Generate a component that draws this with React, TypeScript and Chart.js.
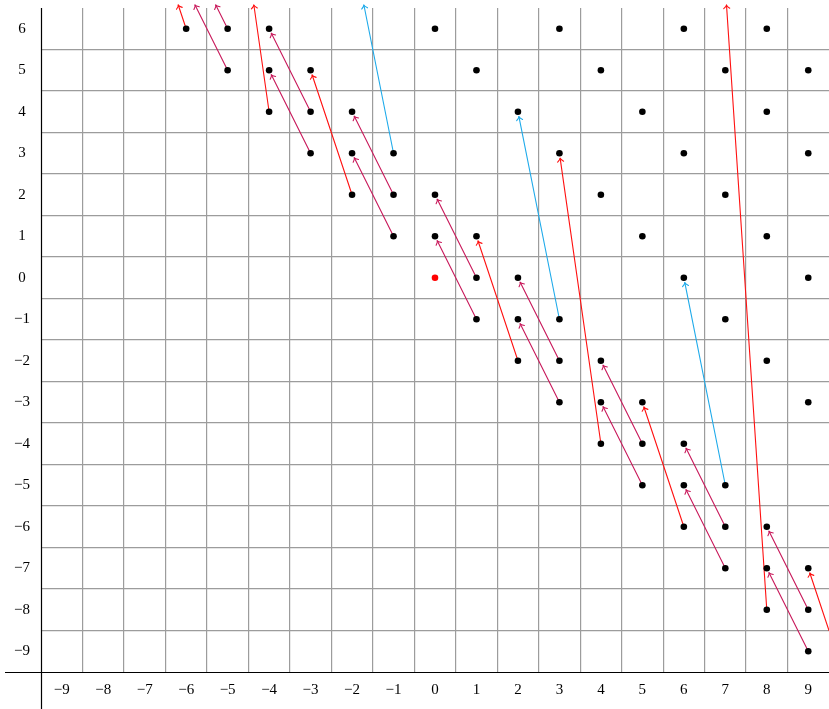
import React, { useEffect, useRef } from "react";
import { Chart, registerables } from "chart.js";

Chart.register(...registerables);

// ---------- data ----------
const X_MIN = -9.5;
const X_MAX = 9.5;
const Y_MIN = -9.5;
const Y_MAX = 6.5;

const xTickLabels = [-9, -8, -7, -6, -5, -4, -3, -2, -1, 0, 1, 2, 3, 4, 5, 6, 7, 8, 9];
const yTickLabels = [-9, -8, -7, -6, -5, -4, -3, -2, -1, 0, 1, 2, 3, 4, 5, 6];

const dotRowY = [6, 5, 4, 3, 2, 1, 0, -1, -2, -3, -4, -5, -6, -7, -8, -9];
const dotRowX = [
  [-6, -5, -4, 0, 3, 6, 8],
  [-5, -4, -3, 1, 4, 7, 9],
  [-4, -3, -2, 2, 5, 8],
  [-3, -2, -1, 3, 6, 9],
  [-2, -1, 0, 4, 7],
  [-1, 0, 1, 5, 8],
  [1, 2, 6, 9],
  [1, 2, 3, 7],
  [2, 3, 4, 8],
  [3, 4, 5, 9],
  [4, 5, 6],
  [5, 6, 7],
  [6, 7, 8],
  [7, 8, 9],
  [8, 9],
  [9],
];
const originDot = [0, 0];

const magentaFrom = [[-5, 6], [-5, 5], [-3, 4], [-3, 3], [-1, 2], [-1, 1], [1, 0], [1, -1], [3, -2], [3, -3], [5, -4], [5, -5], [7, -6], [7, -7], [9, -8], [9, -9]];
const magentaTo = [[-6, 8], [-6, 7], [-4, 6], [-4, 5], [-2, 4], [-2, 3], [0, 2], [0, 1], [2, 0], [2, -1], [4, -2], [4, -3], [6, -4], [6, -5], [8, -6], [8, -7]];
const redFrom = [[-6, 6], [-4, 4], [-2, 2], [2, -2], [4, -4], [6, -6], [8, -8], [10, -10]];
const redTo = [[-7, 9], [-5, 11], [-3, 5], [1, 1], [3, 3], [5, -3], [7, 7], [9, -7]];
const blueFrom = [[-1, 3], [3, -1], [7, -5]];
const blueTo = [[-2, 8], [2, 4], [6, 0]];

// ---------- styles ----------
const FONT = { family: "'Liberation Serif', 'DejaVu Serif', serif", size: 15 };
const GRID_COLOR = "#9c9c9c";
const MAGENTA = "#c8185a";
const RED = "#ff1010";
const BLUE = "#1eaaea";

const fmt = (v: number) => (v < 0 ? "\u2212" + Math.abs(v) : String(v));

function buildTicks(labels: number[]) {
  const vals: number[] = [];
  labels.forEach((v, i) => {
    if (i === 0) vals.push(v - 0.5);
    vals.push(v);
    vals.push(v + 0.5);
  });
  return vals.map((value) => ({ value }));
}

function clipSeg(x0: number, y0: number, x1: number, y1: number, l: number, t: number, r: number, b: number) {
  let t0 = 0;
  let t1 = 1;
  const dx = x1 - x0;
  const dy = y1 - y0;
  const p = [-dx, dx, -dy, dy];
  const q = [x0 - l, r - x0, y0 - t, b - y0];
  for (let i = 0; i < 4; i++) {
    if (p[i] === 0) {
      if (q[i] < 0) return null;
    } else {
      const rr = q[i] / p[i];
      if (p[i] < 0) {
        if (rr > t1) return null;
        if (rr > t0) t0 = rr;
      } else {
        if (rr < t0) return null;
        if (rr < t1) t1 = rr;
      }
    }
  }
  return [t0, t1];
}

const arrowGroups = [
  { color: MAGENTA, from: magentaFrom, to: magentaTo },
  { color: RED, from: redFrom, to: redTo },
  { color: BLUE, from: blueFrom, to: blueTo },
];

const arrowPlugin = {
  id: "arrowsAndAxes",
  beforeDatasetsDraw(chart: any) {
    const { ctx, chartArea: a, scales } = chart;
    const xs = scales.x;
    const ys = scales.y;
    ctx.save();
    // axis lines
    ctx.strokeStyle = "#000";
    ctx.lineWidth = 1.2;
    ctx.beginPath();
    ctx.moveTo(a.left + 0.5, a.top);
    ctx.lineTo(a.left + 0.5, chart.height);
    ctx.moveTo(5, a.bottom + 0.5);
    ctx.lineTo(a.right, a.bottom + 0.5);
    ctx.stroke();

    // arrows
    const l = a.left;
    const r = a.right;
    const t = a.top - 3;
    const b = a.bottom;
    ctx.lineWidth = 1.1;
    ctx.lineCap = "round";
    ctx.lineJoin = "round";
    arrowGroups.forEach((g) => {
      ctx.strokeStyle = g.color;
      g.from.forEach((f, i) => {
        const to = g.to[i];
        const x0 = xs.getPixelForValue(f[0]);
        const y0 = ys.getPixelForValue(f[1]);
        const x1 = xs.getPixelForValue(to[0]);
        const y1 = ys.getPixelForValue(to[1]);
        const c = clipSeg(x0, y0, x1, y1, l, t, r, b);
        if (!c) return;
        const dx = x1 - x0;
        const dy = y1 - y0;
        const len = Math.hypot(dx, dy);
        const ux = dx / len;
        const uy = dy / len;
        const sx = x0 + c[0] * dx;
        const sy = y0 + c[0] * dy;
        let ex = x0 + c[1] * dx;
        let ey = y0 + c[1] * dy;
        if (c[1] >= 1) {
          ex -= ux * 5;
          ey -= uy * 5;
        }
        ctx.beginPath();
        ctx.moveTo(sx, sy);
        ctx.lineTo(ex, ey);
        ctx.stroke();
        const hl = 3.5;
        const hw = 3;
        ctx.beginPath();
        ctx.moveTo(ex - ux * hl - uy * hw, ey - uy * hl + ux * hw);
        ctx.quadraticCurveTo(ex - ux * 1.2, ey - uy * 1.2, ex, ey);
        ctx.quadraticCurveTo(ex - ux * 1.2, ey - uy * 1.2, ex - ux * hl + uy * hw, ey - uy * hl - ux * hw);
        ctx.stroke();
      });
    });
    ctx.restore();
  },
};

export default function App() {
  const canvasRef = useRef<HTMLCanvasElement | null>(null);

  useEffect(() => {
    if (!canvasRef.current) return;
    const blackDots: { x: number; y: number }[] = [];
    dotRowY.forEach((yv, i) => dotRowX[i].forEach((xv) => blackDots.push({ x: xv, y: yv })));

    const gridColor = (min: number, max: number) => (c: any) => {
      const v = c.tick ? c.tick.value : undefined;
      if (v === undefined) return "rgba(0,0,0,0)";
      return !Number.isInteger(v) && v > min + 0.01 && v < max - 0.01 ? GRID_COLOR : "rgba(0,0,0,0)";
    };

    const chart = new Chart(canvasRef.current, {
      type: "scatter",
      data: {
        datasets: [
          {
            data: blackDots,
            backgroundColor: "#000",
            borderWidth: 0,
            pointRadius: 3.3,
            pointHoverRadius: 3.3,
          },
          {
            data: [{ x: originDot[0], y: originDot[1] }],
            backgroundColor: "#ff0000",
            borderWidth: 0,
            pointRadius: 3.3,
            pointHoverRadius: 3.3,
          },
        ],
      },
      options: {
        animation: false,
        responsive: false,
        events: [],
        layout: { autoPadding: false, padding: { top: 8, left: 0, right: 0, bottom: 0 } },
        plugins: { legend: { display: false }, tooltip: { enabled: false } },
        scales: {
          x: {
            type: "linear",
            min: X_MIN,
            max: X_MAX,
            afterBuildTicks: (s: any) => {
              s.ticks = buildTicks(xTickLabels);
            },
            afterFit: (s: any) => {
              s.height = 37;
              s.paddingLeft = 0;
              s.paddingRight = 0;
              s.paddingTop = 0;
              s.paddingBottom = 0;
            },
            ticks: {
              autoSkip: false,
              maxRotation: 0,
              minRotation: 0,
              padding: 9,
              color: "#000",
              font: FONT,
              callback: (v: any) => (Number.isInteger(v) ? fmt(v) : ""),
            },
            grid: { color: gridColor(X_MIN, X_MAX), lineWidth: 1.2, drawTicks: false },
            border: { display: false },
          },
          y: {
            type: "linear",
            min: Y_MIN,
            max: Y_MAX,
            afterBuildTicks: (s: any) => {
              s.ticks = buildTicks(yTickLabels);
            },
            afterFit: (s: any) => {
              s.width = 41;
              s.paddingLeft = 0;
              s.paddingRight = 0;
              s.paddingTop = 0;
              s.paddingBottom = 0;
            },
            ticks: {
              autoSkip: false,
              crossAlign: "center",
              padding: 11,
              color: "#000",
              font: FONT,
              callback: (v: any) => (Number.isInteger(v) ? fmt(v) : ""),
            },
            grid: { color: gridColor(Y_MIN, Y_MAX), lineWidth: 1.2, drawTicks: false },
            border: { display: false },
          },
        },
      },
      plugins: [arrowPlugin],
    });
    return () => chart.destroy();
  }, []);

  return (
    <div style={{ position: "fixed", left: 0, top: 0, width: 829, height: 709, background: "#fff" }}>
      <canvas ref={canvasRef} width={829} height={709} style={{ display: "block" }} />
    </div>
  );
}
